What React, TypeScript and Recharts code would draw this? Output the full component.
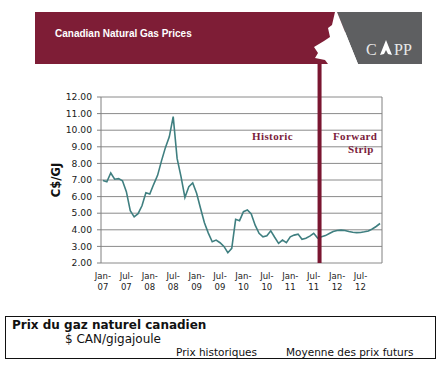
import React from "react";
import {
  LineChart,
  Line,
  XAxis,
  YAxis,
  CartesianGrid,
  ReferenceLine,
} from "recharts";

// Monthly prices Jan-07 .. Dec-12 (C$/GJ)
const years = ["07", "08", "09", "10", "11", "12"];
const monthNames = ["Jan", "Feb", "Mar", "Apr", "May", "Jun", "Jul", "Aug", "Sep", "Oct", "Nov", "Dec"];
const prices = [
  6.97, 6.89, 7.42, 7.05, 7.08, 6.95, 6.3, 5.15, 4.78, 4.97, 5.45, 6.23,
  6.15, 6.74, 7.28, 8.15, 8.95, 9.6, 10.82, 8.3, 7.2, 5.95, 6.6, 6.82,
  6.2, 5.3, 4.42, 3.8, 3.28, 3.38, 3.22, 3.0, 2.62, 2.88, 4.63, 4.55,
  5.09, 5.19, 4.95, 4.28, 3.79, 3.58, 3.64, 3.94, 3.55, 3.18, 3.38, 3.22,
  3.58, 3.68, 3.74, 3.43, 3.49, 3.62, 3.79, 3.5, 3.58, 3.65, 3.78, 3.9,
  3.96, 3.98, 3.96, 3.9, 3.85, 3.83, 3.84, 3.88, 3.93, 4.05, 4.2, 4.38,
];
const tickLabels = [
  "Jan-07", "Jul-07", "Jan-08", "Jul-08", "Jan-09", "Jul-09",
  "Jan-10", "Jul-10", "Jan-11", "Jul-11", "Jan-12", "Jul-12",
];
const yTicks = [2, 3, 4, 5, 6, 7, 8, 9, 10, 11, 12];
const forwardStartMonth = 56; // Sep-11 boundary

const months = years.flatMap((y) => monthNames.map((m) => `${m}-${y}`));
const data = prices.map((p, i) => ({ month: months[i], x: i + 0.5, price: p }));
const labelTicks = tickLabels.map((l) => months.indexOf(l) + 0.5);
const boundaryTicks = [...tickLabels.map((l) => months.indexOf(l)), months.length];

const FONT = "'DejaVu Sans', Verdana, sans-serif";
const RED = "#7E1D36";

const XTick = (props: any) => {
  const { x, y, payload } = props;
  const idx = labelTicks.indexOf(payload.value);
  const lab = tickLabels[idx] || "";
  const [a, b] = lab.split("-");
  return (
    <text x={x} y={y} textAnchor="middle" fontSize={8.5} fontFamily={FONT} fill="#222">
      <tspan x={x} dy="0.71em">{a}-</tspan>
      <tspan x={x} dy="1.3em">{b}</tspan>
    </text>
  );
};

const YTitle = (props: any) => {
  const vb = props.viewBox || {};
  const cx = vb.x + 56;
  const cy = vb.y + vb.height / 2;
  return (
    <text
      x={cx}
      y={cy}
      transform={`rotate(-90 ${cx} ${cy})`}
      textAnchor="middle"
      dominantBaseline="central"
      fontFamily={FONT}
      fontWeight="bold"
      fontSize={11.5}
      fill="#111"
    >
      C$/GJ
    </text>
  );
};

export default function App() {
  return (
    <div style={{ position: "absolute", left: 0, top: 0, width: 444, height: 365, background: "#fff" }}>
      <svg width={444} height={70} style={{ position: "absolute", left: 0, top: 0 }}>
        <rect x={35} y={12} width={310} height={52} fill={RED} />
        <polygon points="337,12 422,12 422,64 358,64" fill="#5E5F61" />
        <polygon
          points="335,12 337,12 358,64 328,64 325,60 315,58 318,53 314,47 324,41 330,37 328,28 332,25"
          fill="#fff"
        />
        <text x={55} y={36.5} fill="#fff" fontFamily="'Liberation Sans', Arial, sans-serif" fontWeight="bold" fontSize={10}>
          Canadian Natural Gas Prices
        </text>
        <text x={366} y={55} fill="#e8e8e8" fontFamily="'Liberation Serif', serif" fontSize={16}>C</text>
        <polygon points="386,40 380,55 384,54 386,50 388,54 392,55" fill="#fff" />
        <text x={394} y={55} fill="#e8e8e8" fontFamily="'Liberation Serif', serif" fontSize={16}>PP</text>
      </svg>

      <div style={{ position: "absolute", left: 0, top: 0 }}>
        <LineChart
          width={444}
          height={300}
          data={data}
          margin={{ top: 97, right: 62, bottom: 7, left: 0 }}
        >
          <CartesianGrid horizontal vertical={false} stroke="#8a8a8a" strokeWidth={1} />
          <XAxis
            xAxisId="b"
            type="number"
            dataKey="x"
            domain={[0, 72]}
            ticks={boundaryTicks}
            height={0}
            tickSize={4}
            tickFormatter={() => ""}
            axisLine={{ stroke: "#808080" }}
            tickLine={{ stroke: "#808080" }}
          />
          <XAxis
            type="number"
            dataKey="x"
            domain={[0, 72]}
            ticks={labelTicks}
            height={30}
            axisLine={false}
            tickLine={false}
            tickSize={8}
            tickMargin={2}
            interval={0}
            tick={<XTick />}
          />
          <YAxis
            type="number"
            domain={[2, 12]}
            ticks={yTicks}
            interval={0}
            width={101}
            tickSize={4}
            tickMargin={5}
            tickFormatter={(v: number) => v.toFixed(2)}
            tick={{ fontSize: 9.2, fontFamily: FONT, fill: "#1a1a1a" }}
            axisLine={{ stroke: "#808080" }}
            tickLine={{ stroke: "#808080" }}
            label={{ content: <YTitle /> }}
          />
          <ReferenceLine x={72} stroke="#808080" strokeWidth={1} />
          <Line
            type="linear"
            dataKey="price"
            stroke="#3F7F80"
            strokeWidth={1.6}
            dot={false}
            isAnimationActive={false}
          />
          <ReferenceLine
            segment={[
              { x: forwardStartMonth, y: 2 },
              { x: forwardStartMonth, y: 14 },
            ]}
            ifOverflow="visible"
            stroke="#7A1631"
            strokeWidth={4}
          />
        </LineChart>
      </div>

      <div style={{ position: "absolute", left: 252, top: 130, fontFamily: "'Liberation Serif', serif", fontWeight: "bold", fontSize: 11, color: "#7B1C3C", letterSpacing: 0.4 }}>
        Historic
      </div>
      <div style={{ position: "absolute", left: 333, top: 130, fontFamily: "'Liberation Serif', serif", fontWeight: "bold", fontSize: 11, color: "#7B1C3C", letterSpacing: 0.4 }}>
        Forward
      </div>
      <div style={{ position: "absolute", left: 348, top: 143, fontFamily: "'Liberation Serif', serif", fontWeight: "bold", fontSize: 11, color: "#7B1C3C", letterSpacing: 0.4 }}>
        Strip
      </div>

      <div style={{ position: "absolute", left: 5, top: 316, width: 429, height: 41, border: "1.5px solid #111", fontFamily: FONT, color: "#111" }}>
        <div style={{ position: "absolute", left: 6, top: 1, fontSize: 12, fontWeight: "bold", whiteSpace: "nowrap" }}>
          Prix du gaz naturel canadien
        </div>
        <div style={{ position: "absolute", left: 59, top: 15, fontSize: 12, whiteSpace: "nowrap" }}>
          $ CAN/gigajoule
        </div>
        <div style={{ position: "absolute", left: 170, top: 29, fontSize: 10.5, whiteSpace: "nowrap" }}>
          Prix historiques
        </div>
        <div style={{ position: "absolute", left: 280, top: 29, fontSize: 10.5, whiteSpace: "nowrap" }}>
          Moyenne des prix futurs
        </div>
      </div>
    </div>
  );
}
